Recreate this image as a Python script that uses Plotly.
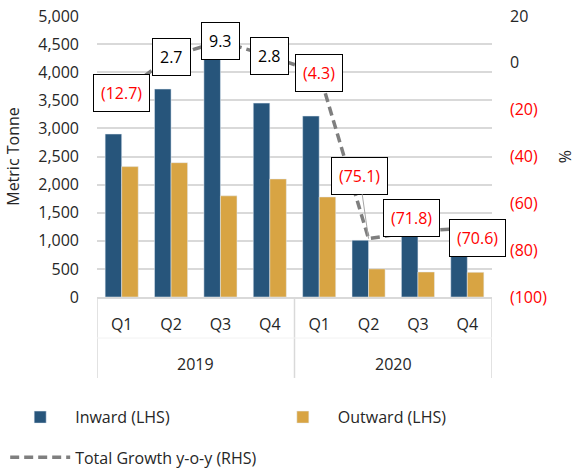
import plotly.graph_objects as go

years = ["2019", "2020"]
quarters = ["Q1", "Q2", "Q3", "Q4"]
inward = [2900, 3700, 4300, 3450, 3220, 1010, 1150, 800]
outward = [2320, 2390, 1800, 2100, 1780, 500, 445, 440]
growth = [-12.7, 2.7, 9.3, 2.8, -4.3, -75.1, -71.8, -70.6]

left_ticks = list(range(0, 5001, 500))
right_ticks = [20, 0, -20, -40, -60, -80, -100]

# category keys (year + quarter), shown with the quarter only
cats = [f"{y} {q}" for y in years for q in quarters]
cat_text = [q for y in years for q in quarters]

# label offsets (pixels) relative to each point
label_dx = [0, 0, 0, 0, 0, -9, -6, 10]
label_dy = [0, 0, 0, 0, 0, -63, -13, 10]
leader = [False, False, False, False, False, True, False, False]

FONT = "Open Sans"
BLUE = "#27557B"
GOLD = "#D8A443"
RED = "#FF0000"
TXT = "#262626"
GRID = "#D9D9D9"
FS = 16


def fmt(v):
    return f"({abs(v):.1f})" if v < 0 else f"{v:.1f}"


def fmt_tick(v):
    return f"({abs(v)})" if v < 0 else f"{v}"


fig = go.Figure()
fig.add_trace(go.Bar(x=cats, y=inward, name="Inward (LHS)",
                     marker_color=BLUE, legend="legend"))
fig.add_trace(go.Bar(x=cats, y=outward, name="Outward (LHS)",
                     marker_color=GOLD, legend="legend2"))
fig.add_trace(go.Scatter(x=cats, y=growth, yaxis="y2",
                         name="Total Growth y-o-y (RHS)", mode="lines",
                         line=dict(color="#7F7F7F", width=3.5, dash="9px,5px"),
                         legend="legend3"))

annotations = []
for i, v in enumerate(growth):
    annotations.append(dict(
        x=i, y=v, xref="x", yref="y2", text=fmt(v),
        showarrow=True, ax=label_dx[i], ay=label_dy[i],
        arrowhead=0, arrowwidth=1,
        arrowcolor="#A6A6A6" if leader[i] else "rgba(0,0,0,0)",
        font=dict(family=FONT, size=16, color=RED if v < 0 else "#000000"),
        bgcolor="white", bordercolor="#000000", borderwidth=1, borderpad=7,
    ))

# year group labels and group dividers under the quarter labels
n_q = len(quarters)
for k, y in enumerate(years):
    annotations.append(dict(
        x=k * n_q + (n_q - 1) / 2, y=-0.238, xref="x", yref="paper",
        text=y, showarrow=False, yanchor="middle",
        font=dict(family=FONT, size=FS, color=TXT)))

shapes = []
for k in range(len(years) + 1):
    shapes.append(dict(type="line", xref="x", yref="paper",
                       x0=k * n_q - 0.5, x1=k * n_q - 0.5, y0=0, y1=-0.288,
                       line=dict(color=GRID, width=1.5)))
shapes.append(dict(type="line", xref="paper", yref="paper",
                   x0=0, x1=1, y0=-0.146, y1=-0.146,
                   line=dict(color="#F2F2F2", width=1)))

right_text = [fmt_tick(t) if t >= 0 else f'<span style="color:{RED}">{fmt_tick(t)}</span>'
              for t in right_ticks]

legend_common = dict(orientation="h", xref="container", yref="container",
                     xanchor="left", yanchor="middle", bgcolor="rgba(0,0,0,0)",
                     font=dict(size=FS, color=TXT), itemwidth=60)

fig.update_layout(
    width=576, height=473,
    margin=dict(l=97, r=84, t=16, b=176, autoexpand=False),
    paper_bgcolor="white", plot_bgcolor="white",
    font=dict(family=FONT, size=FS, color=TXT),
    barmode="group", bargap=0.33, bargroupgap=0,
    showlegend=True,
    annotations=annotations,
    shapes=shapes,
    xaxis=dict(type="category", tickvals=cats, ticktext=cat_text,
               range=[-0.5, len(cats) - 0.5],
               showline=True, linecolor=GRID, linewidth=1.5, showgrid=False,
               automargin=False, ticklabelstandoff=12,
               tickfont=dict(size=FS, color=TXT)),
    yaxis=dict(range=[0, 5000], tickvals=left_ticks, tickformat=",",
               showgrid=True, gridcolor=GRID, gridwidth=1.5, zeroline=False,
               ticklabelstandoff=17, automargin=False,
               title=dict(text="Metric Tonne", font=dict(size=FS, color=TXT), standoff=14)),
    yaxis2=dict(range=[-100, 20], overlaying="y", side="right",
                tickvals=right_ticks, ticktext=right_text, showgrid=False,
                zeroline=False, ticklabelstandoff=17, automargin=False,
                title=dict(text="%", font=dict(size=FS, color=TXT), standoff=18)),
    legend=dict(x=0.009, y=0.118, **legend_common),
    legend2=dict(x=0.465, y=0.118, **legend_common),
    legend3=dict(x=0.009, y=0.033, **legend_common),
)

fig.write_html("out.html", config={"displayModeBar": False},
               post_script="document.body.style.margin='0';")
